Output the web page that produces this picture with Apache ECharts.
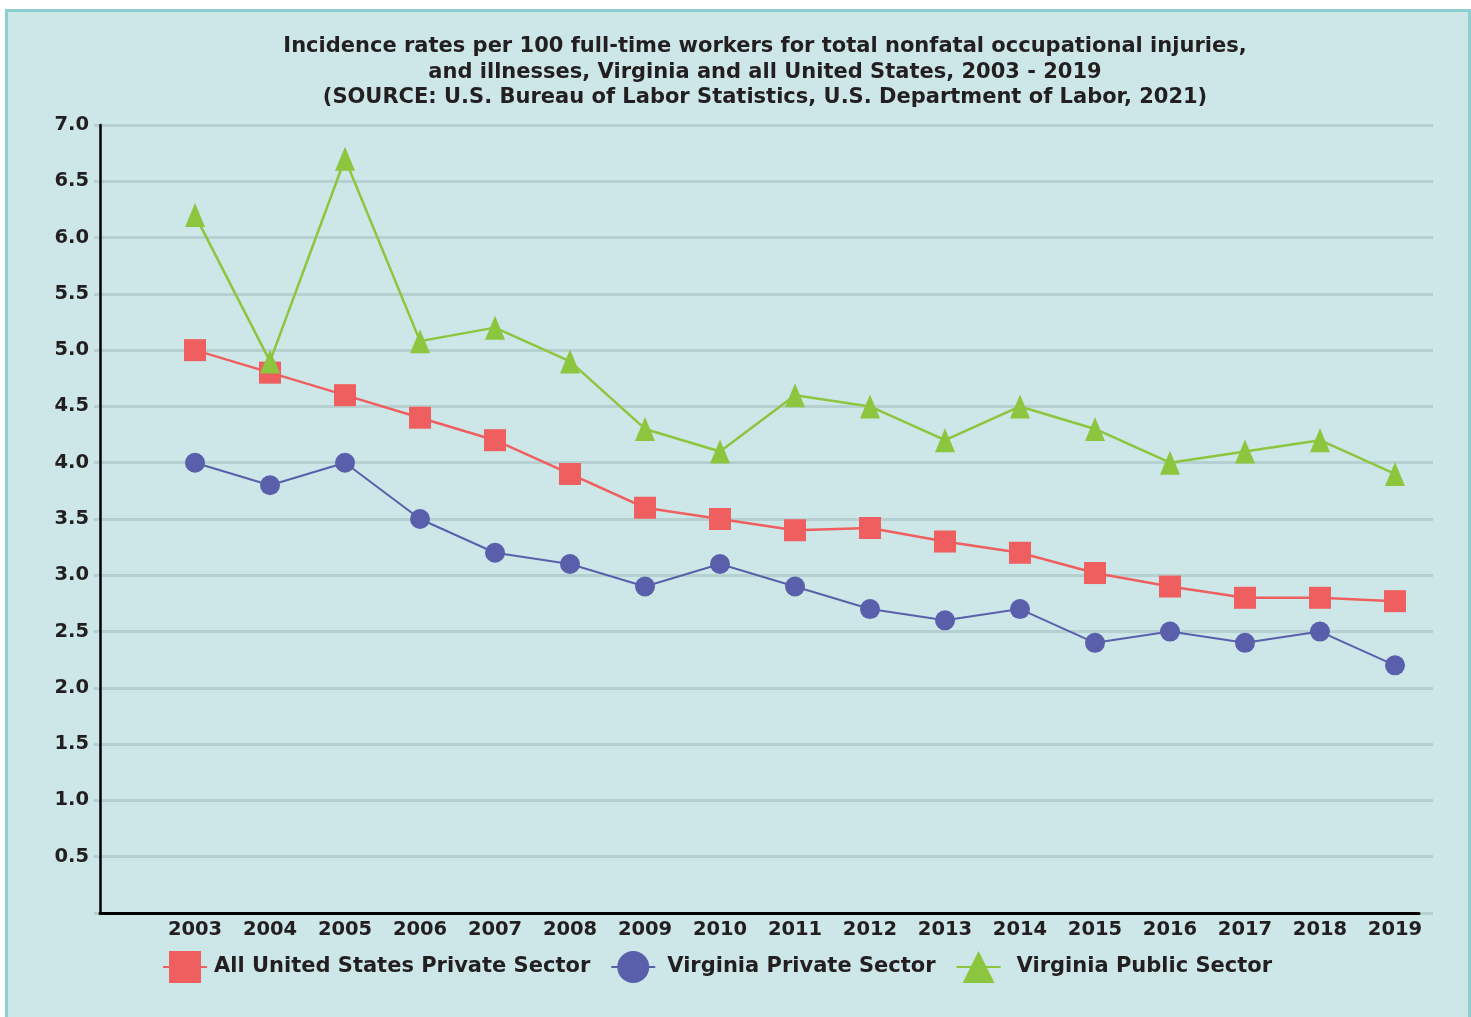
<!DOCTYPE html>
<html><head><meta charset="utf-8">
<script src="https://cdn.jsdelivr.net/npm/echarts@6/dist/echarts.min.js"></script>
<style>
html,body{margin:0;padding:0;background:#fff;width:1471px;height:1017px;overflow:hidden}
#frame{position:absolute;left:5px;top:9px;width:1460px;height:1030px;background:#cde6e7;border:3px solid #8dcfcf;}
#chart{position:absolute;left:0;top:0;width:1471px;height:1017px}
</style></head><body>
<div id="frame"></div><div id="chart"></div>
<script>
const titleLines = [
  'Incidence rates per 100 full-time workers for total nonfatal occupational injuries,',
  'and illnesses, Virginia and all United States, 2003 - 2019',
  '(SOURCE: U.S. Bureau of Labor Statistics, U.S. Department of Labor, 2021)'
];
const years = [2003,2004,2005,2006,2007,2008,2009,2010,2011,2012,2013,2014,2015,2016,2017,2018,2019];
const usPrivate = [5.0,4.8,4.6,4.4,4.2,3.9,3.6,3.5,3.4,3.42,3.3,3.2,3.02,2.9,2.8,2.8,2.77];
const vaPrivate = [4.0,3.8,4.0,3.5,3.2,3.1,2.9,3.1,2.9,2.7,2.6,2.7,2.4,2.5,2.4,2.5,2.2];
const vaPublic  = [6.2,4.9,6.7,5.08,5.2,4.9,4.3,4.1,4.6,4.5,4.2,4.5,4.3,4.0,4.1,4.2,3.9];
const seriesNames = ['All United States Private Sector','Virginia Private Sector','Virginia Public Sector'];
const colors = ['#f05f5f','#5a5fab','#8cc63f'];

const FONT = 'DejaVu Sans';
const TXT = '#231f20';
const GRIDC = '#b6d0d2';
const pair = arr => years.map((y,i)=>[y,arr[i]]);
const legendPad = [2, 7, 11];

const chart = echarts.init(document.getElementById('chart'), null, {renderer:'canvas'});
chart.setOption({
  backgroundColor: 'transparent',
  animation: false,
  title: {
    text: titleLines.join('\n'),
    left: 765, top: 34, textAlign: 'center',
    padding: 0,
    textStyle: {fontFamily: FONT, fontWeight: 'bold', fontSize: 21, lineHeight: 25.5, color: TXT}
  },
  legend: {
    top: 946, left: 157,
    itemWidth: 44, itemHeight: 40, itemGap: 20,
    textStyle: {fontFamily: FONT, fontWeight: 'bold', fontSize: 21, color: TXT},
    data: seriesNames.map((n,i) => ({name: n, textStyle: {padding: [0,0,0,legendPad[i]]}}))
  },
  grid: [
    {left: 100, right: 52, top: 125, bottom: 104, containLabel: false},
    {left: 100, right: 38, top: 125, bottom: 104, containLabel: false}
  ],
  xAxis: [
    {type: 'value', gridIndex: 0, min: 2001.733, max: 2019.32, z: 5,
     axisLine: {show: true, onZero: false, lineStyle: {color: '#000', width: 3}},
     axisTick: {show: false}, splitLine: {show: false},
     axisLabel: {customValues: years, margin: 7, fontFamily: FONT, fontWeight: 'bold', fontSize: 19.5, color: TXT,
       formatter: v => String(v)}},
    {type: 'value', gridIndex: 1, min: 0, max: 1, show: false}
  ],
  yAxis: [
    {type: 'value', gridIndex: 0, min: 0, max: 7, interval: 0.5, z: 5,
     axisLine: {show: true, lineStyle: {color: '#000', width: 2.5}},
     axisTick: {show: false}, axisLabel: {show: false}, splitLine: {show: false}},
    {type: 'value', gridIndex: 1, min: 0, max: 7, interval: 0.5, z: 0,
     axisLine: {show: false},
     axisTick: {show: true, length: 6, lineStyle: {color: GRIDC, width: 3}},
     splitLine: {show: true, lineStyle: {color: GRIDC, width: 3}},
     axisLabel: {margin: 11, fontFamily: FONT, fontWeight: 'bold', fontSize: 19.5, color: TXT,
       formatter: v => v === 0 ? '' : v.toFixed(1)}}
  ],
  series: [
    {name: seriesNames[0], type: 'line', xAxisIndex: 0, yAxisIndex: 0, data: pair(usPrivate),
     symbol: 'rect', symbolSize: 22, itemStyle: {color: colors[0]}, lineStyle: {color: colors[0], width: 2.5}, z: 3},
    {name: seriesNames[1], type: 'line', xAxisIndex: 0, yAxisIndex: 0, data: pair(vaPrivate),
     symbol: 'circle', symbolSize: 20, itemStyle: {color: colors[1]}, lineStyle: {color: colors[1], width: 2}, z: 3},
    {name: seriesNames[2], type: 'line', xAxisIndex: 0, yAxisIndex: 0, data: pair(vaPublic),
     symbol: 'triangle', symbolSize: [20,24], itemStyle: {color: colors[2]}, lineStyle: {color: colors[2], width: 2.5}, z: 4}
  ]
});
</script>
</body></html>
